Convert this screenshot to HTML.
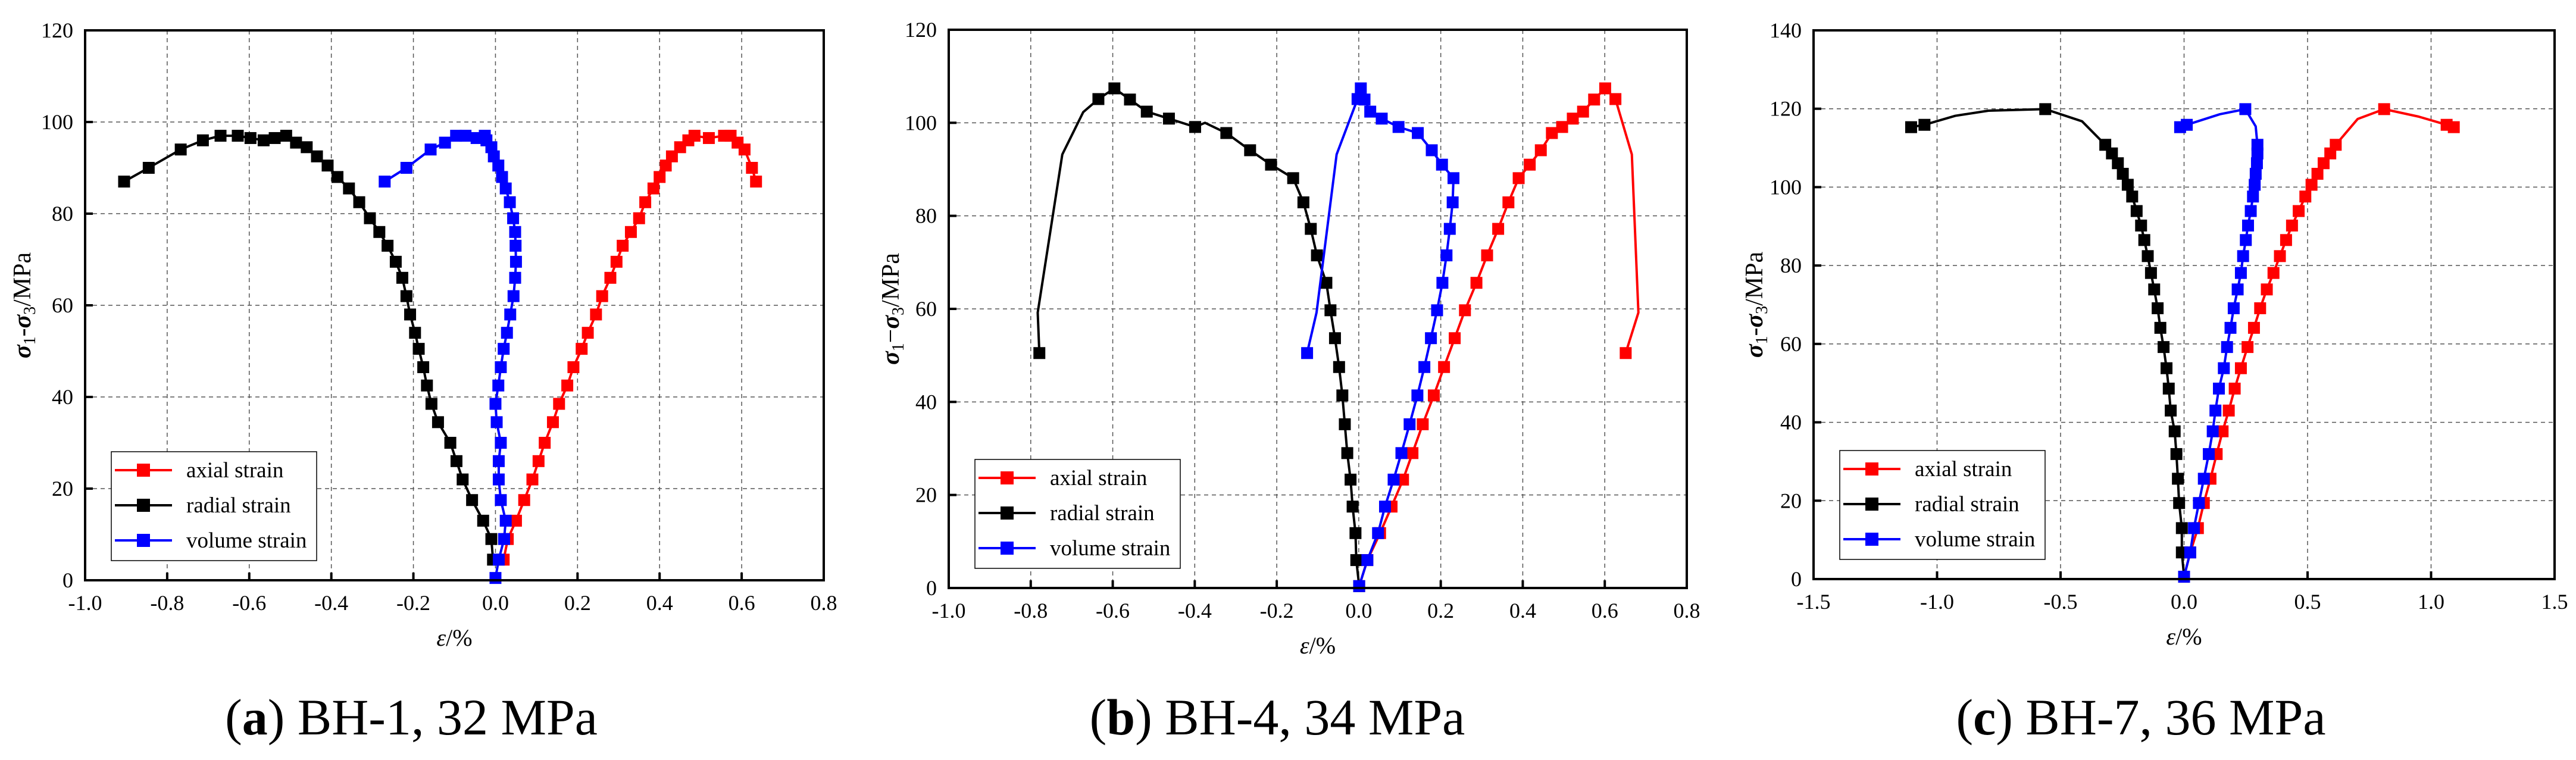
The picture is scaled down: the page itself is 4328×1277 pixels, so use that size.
<!DOCTYPE html>
<html><head><meta charset="utf-8"><style>
html,body{margin:0;padding:0;background:#fff;}
svg{display:block;font-family:"Liberation Serif",serif;}
text{font-family:"Liberation Serif",serif;}
</style></head><body>
<svg id="fig" width="4328" height="1277" viewBox="0 0 4328 1277" xmlns="http://www.w3.org/2000/svg" font-family="Liberation Serif, serif"></svg>
<script>
// ---------- Chart (a) BH-1 ----------
const aAxialX=[0.02,0.03,0.05,0.07,0.09,0.105,0.12,0.14,0.155,0.175,0.19,0.21,0.225,0.245,0.26,0.28,0.295,0.31,0.33,0.35,0.365,0.385,0.4,0.415,0.43,0.45,0.47,0.485,0.52,0.557,0.573,0.59,0.607,0.625,0.635];
const aAxialY=[4.5,9,13,17.5,22,26,30,34.5,38.5,42.5,46.5,50.5,54,58,62,66,69.5,73,76,79,82.5,85.5,88,90.5,92.5,94.5,96,97,96.5,97,97,95.5,94,90,87];
const aRadialX=[-0.006,-0.01,-0.03,-0.057,-0.08,-0.095,-0.11,-0.14,-0.156,-0.167,-0.176,-0.187,-0.196,-0.208,-0.217,-0.227,-0.243,-0.263,-0.283,-0.306,-0.332,-0.357,-0.385,-0.409,-0.435,-0.46,-0.486,-0.51,-0.538,-0.565,-0.597,-0.628,-0.67,-0.713,-0.767,-0.845,-0.905];
const aRadialY=[4.5,9,13,17.5,22,26,30,34.5,38.5,42.5,46.5,50.5,54,58,62,66,69.5,73,76,79,82.5,85.5,88,90.5,92.5,94.5,95.5,97,96.5,96,96.5,97,97,96,94,90,87];
const aVolX=[0,0.008,0.021,0.025,0.013,0.008,0.008,0.013,0.003,0,0.007,0.013,0.02,0.028,0.036,0.044,0.048,0.05,0.049,0.048,0.043,0.035,0.025,0.016,0.007,-0.004,-0.01,-0.022,-0.026,-0.046,-0.073,-0.096,-0.123,-0.158,-0.217,-0.27];
const aVolY=[0.5,4.5,9,13,17.5,22,26,30,34.5,38.5,42.5,46.5,50.5,54,58,62,66,69.5,73,76,79,82.5,85.5,88,90.5,92.5,94.5,96,97,96.5,97,97,95.5,94,90,87];
const aXTicks=["-1.0","-0.8","-0.6","-0.4","-0.2","0.0","0.2","0.4","0.6","0.8"];
const aYTicks=["0","20","40","60","80","100","120"];

// ---------- Chart (b) BH-4 ----------
const bAxialX=[0.001,0.021,0.052,0.08,0.108,0.131,0.156,0.183,0.208,0.234,0.259,0.287,0.313,0.34,0.365,0.39,0.417,0.444,0.471,0.496,0.522,0.547,0.574,0.601,0.626,0.666,0.682,0.651];
const bAxialY=[0.4,6,11.8,17.5,23.3,29,35.2,41.4,47.5,53.7,59.7,65.6,71.5,77.2,82.9,88.1,91,94.1,97.8,99.1,100.9,102.4,105,107.4,105.1,93.2,59.2,50.5];
const bAxialM=[1,1,1,1,1,1,1,1,1,1,1,1,1,1,1,1,1,1,1,1,1,1,1,1,1,0,0,1];
const bRadialX=[0.001,-0.006,-0.008,-0.015,-0.02,-0.028,-0.034,-0.04,-0.048,-0.058,-0.069,-0.079,-0.102,-0.117,-0.135,-0.16,-0.214,-0.265,-0.323,-0.375,-0.399,-0.463,-0.517,-0.558,-0.596,-0.635,-0.672,-0.723,-0.783,-0.779];
const bRadialY=[0.4,6,11.8,17.5,23.3,29,35.2,41.4,47.5,53.7,59.7,65.6,71.5,77.2,82.9,88.1,91,94.1,97.8,100,99.1,100.9,102.4,105,107.4,105.1,102.3,93.2,59.2,50.5];
const bRadialM=[1,1,1,1,1,1,1,1,1,1,1,1,1,1,1,1,1,1,1,0,1,1,1,1,1,1,0,0,0,1];
const bVolX=[0.001,0.021,0.047,0.064,0.085,0.104,0.124,0.143,0.16,0.176,0.191,0.204,0.214,0.222,0.229,0.231,0.203,0.178,0.144,0.097,0.056,0.028,0.014,0.005,-0.003,-0.054,-0.103,-0.126];
const bVolY=[0.4,6,11.8,17.5,23.3,29,35.2,41.4,47.5,53.7,59.7,65.6,71.5,77.2,82.9,88.1,91,94.1,97.8,99.1,100.9,102.4,105,107.4,105.1,93.2,59.2,50.5];
const bVolM=[1,1,1,1,1,1,1,1,1,1,1,1,1,1,1,1,1,1,1,1,1,1,1,1,1,0,0,1];
const bXTicks=["-1.0","-0.8","-0.6","-0.4","-0.2","0.0","0.2","0.4","0.6","0.8"];
const bYTicks=["0","20","40","60","80","100","120"];

// ---------- Chart (c) BH-7 ----------
const cAxialX=[0,0.025,0.056,0.08,0.107,0.132,0.156,0.181,0.205,0.23,0.257,0.283,0.308,0.335,0.362,0.388,0.413,0.437,0.464,0.491,0.516,0.54,0.565,0.592,0.614,0.703,0.81,0.949,1.063,1.092];
const cAxialY=[0.6,6.8,13,19.4,25.6,31.9,37.7,43,48.6,53.8,59.2,64.1,69.1,73.9,78.1,82.4,86.5,90.2,93.9,97.6,100.6,103.4,106.1,108.6,110.8,117.4,119.9,118,115.9,115.3];
const cAxialM=[1,1,1,1,1,1,1,1,1,1,1,1,1,1,1,1,1,1,1,1,1,1,1,1,1,0,1,0,1,1];
const cRadialX=[0,-0.009,-0.009,-0.02,-0.025,-0.031,-0.038,-0.054,-0.062,-0.071,-0.083,-0.096,-0.107,-0.121,-0.134,-0.147,-0.161,-0.174,-0.192,-0.21,-0.228,-0.248,-0.268,-0.292,-0.319,-0.413,-0.562,-0.792,-0.926,-1.051,-1.105];
const cRadialY=[0.6,6.8,13,19.4,25.6,31.9,37.7,43,48.6,53.8,59.2,64.1,69.1,73.9,78.1,82.4,86.5,90.2,93.9,97.6,100.6,103.4,106.1,108.6,110.8,116.8,119.9,119.5,118.2,115.9,115.3];
const cRadialM=[1,1,1,1,1,1,1,1,1,1,1,1,1,1,1,1,1,1,1,1,1,1,1,1,1,0,1,0,0,1,1];
const cVolX=[0,0.025,0.04,0.06,0.08,0.1,0.116,0.127,0.141,0.161,0.174,0.188,0.201,0.217,0.23,0.239,0.25,0.259,0.27,0.279,0.286,0.29,0.295,0.297,0.297,0.29,0.248,0.145,0.011,-0.016];
const cVolY=[0.6,6.8,13,19.4,25.6,31.9,37.7,43,48.6,53.8,59.2,64.1,69.1,73.9,78.1,82.4,86.5,90.2,93.9,97.6,100.6,103.4,106.1,108.6,110.8,115.5,119.9,118.6,115.9,115.3];
const cVolM=[1,1,1,1,1,1,1,1,1,1,1,1,1,1,1,1,1,1,1,1,1,1,1,1,1,0,1,0,1,1];
const cXTicks=["-1.5","-1.0","-0.5","0.0","0.5","1.0","1.5"];
const cYTicks=["0","20","40","60","80","100","120","140"];

const NS="http://www.w3.org/2000/svg";
const svg=document.getElementById('fig');
function mk(tag,attrs,parent){const e=document.createElementNS(NS,tag);for(const k in attrs)e.setAttribute(k,attrs[k]);(parent||svg).appendChild(e);return e;}

function chart(id,box,xt,yt,series,caption,capLetter,capX,ytOff,dash){
  const g=mk('g',{});
  
  
  const x0=parseFloat(xt[0]),x1=parseFloat(xt[xt.length-1]);
  const y0=parseFloat(yt[0]),y1=parseFloat(yt[yt.length-1]);
  const X=v=>box.l+(v-x0)/(x1-x0)*(box.r-box.l);
  const Y=v=>box.b-(v-y0)/(y1-y0)*(box.b-box.t);
  xt.forEach((t,i)=>{const v=parseFloat(t);
    if(i>0&&i<xt.length-1){const l=mk('line',{x1:X(v),x2:X(v),y1:box.t,y2:box.b,stroke:'#555','stroke-width':1.5,'stroke-dasharray':'7,6'},g);
      
      const tk=mk('line',{x1:X(v),x2:X(v),y1:box.b,y2:box.b-13,stroke:'#000','stroke-width':4},g);
      }
    const tx=mk('text',{x:X(v),y:box.b+50,'font-size':36,'text-anchor':'middle'},g);tx.textContent=t;
    
  });
  yt.forEach((t,i)=>{const v=parseFloat(t);
    if(i>0&&i<yt.length-1){const l=mk('line',{x1:box.l,x2:box.r,y1:Y(v),y2:Y(v),stroke:'#555','stroke-width':1.5,'stroke-dasharray':'7,6'},g);
      
      const tk=mk('line',{x1:box.l,x2:box.l+13,y1:Y(v),y2:Y(v),stroke:'#000','stroke-width':4},g);
      }
    const tx=mk('text',{x:box.l-20,y:Y(v)+12,'font-size':36,'text-anchor':'end'},g);tx.textContent=t;
    
  });
  series.forEach(s=>{
    const pts=s.x.map((v,i)=>X(v)+','+Y(s.y[i])).join(' ');
    const pl=mk('polyline',{points:pts,fill:'none',stroke:s.c,'stroke-width':4,'stroke-linejoin':'round'},g);
    
    s.x.forEach((v,i)=>{ if(s.m&&!s.m[i])return;
      const r=mk('rect',{x:X(v)-10,y:Y(s.y[i])-10,width:20,height:20,fill:s.c},g);
      });
  });
  const fr=mk('rect',{x:box.l,y:box.t,width:box.r-box.l,height:box.b-box.t,fill:'none',stroke:'#000','stroke-width':4},g);
  
  const lg=mk('g',{},g);
  
  const lx=box.l+44,ly=box.b-216;
  mk('rect',{x:lx,y:ly,width:345,height:183,fill:'#fff',stroke:'#000','stroke-width':1.5},lg);
  series.forEach((s,i)=>{
    const cy=ly+31+i*59;
    const e=mk('g',{},lg);
    
    mk('line',{x1:lx+6,x2:lx+102,y1:cy,y2:cy,stroke:s.c,'stroke-width':4},e);
    mk('rect',{x:lx+43,y:cy-11,width:22,height:22,fill:s.c},e);
    const t=mk('text',{x:lx+126,y:cy+12,'font-size':37},e);t.textContent=s.label;
  });
  const xtl=mk('text',{x:(box.l+box.r)/2,y:box.b+110,'font-size':40,'text-anchor':'middle'},g);
  xtl.innerHTML='<tspan font-style="italic">ε</tspan>/%';
  
  const cy=(box.t+box.b)/2,cx=box.l-ytOff;
  const ytl=mk('text',{x:cx,y:cy,'font-size':42,'text-anchor':'middle',transform:`rotate(-90 ${cx} ${cy})`},g);
  ytl.innerHTML='<tspan font-style="italic" font-weight="bold">σ</tspan><tspan font-size="28" dy="8">1</tspan><tspan dy="-8">'+dash+'</tspan><tspan font-style="italic" font-weight="bold">σ</tspan><tspan font-size="28" dy="8">3</tspan><tspan dy="-8">/MPa</tspan>';
  
  const cap=mk('text',{x:capX,y:1234,'font-size':86,'text-anchor':'middle'},g);
  cap.innerHTML='(<tspan font-weight="bold">'+capLetter+'</tspan>) '+caption;
  
}
chart('a',{l:143,r:1384,t:51,b:975},aXTicks,aYTicks,[
  {n:'axial',label:'axial strain',c:'#ff0000',x:aAxialX,y:aAxialY},
  {n:'radial',label:'radial strain',c:'#000000',x:aRadialX,y:aRadialY},
  {n:'volume',label:'volume strain',c:'#0000ff',x:aVolX,y:aVolY}],'BH-1, 32 MPa','a',691,92,'-');
chart('b',{l:1594,r:2834,t:50,b:988},bXTicks,bYTicks,[
  {n:'axial',label:'axial strain',c:'#ff0000',x:bAxialX,y:bAxialY,m:bAxialM},
  {n:'radial',label:'radial strain',c:'#000000',x:bRadialX,y:bRadialY,m:bRadialM},
  {n:'volume',label:'volume strain',c:'#0000ff',x:bVolX,y:bVolY,m:bVolM}],'BH-4, 34 MPa','b',2146,84,'−');
chart('c',{l:3047,r:4292,t:51,b:973},cXTicks,cYTicks,[
  {n:'axial',label:'axial strain',c:'#ff0000',x:cAxialX,y:cAxialY,m:cAxialM},
  {n:'radial',label:'radial strain',c:'#000000',x:cRadialX,y:cRadialY,m:cRadialM},
  {n:'volume',label:'volume strain',c:'#0000ff',x:cVolX,y:cVolY,m:cVolM}],'BH-7, 36 MPa','c',3597,86,'-');
</script>
</body></html>
